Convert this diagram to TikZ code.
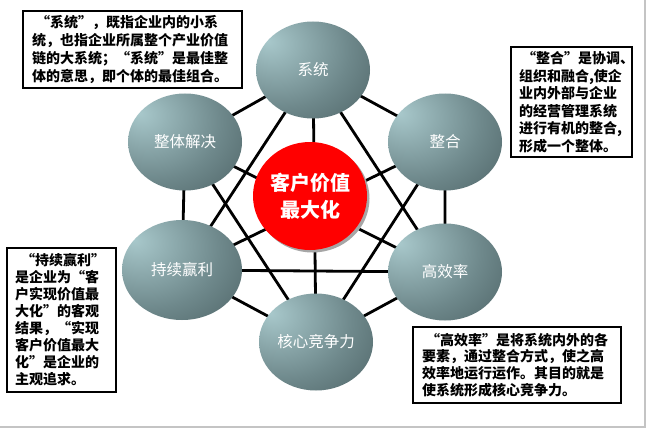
\documentclass[tikz,border=0pt]{standalone}
\usepackage{fontspec}
\newfontfamily\cjk{Noto Sans CJK SC}
\usetikzlibrary{shapes.geometric,shadows}
\definecolor{ellL}{HTML}{A8C8CB}
\definecolor{ellM}{HTML}{6E888B}
\definecolor{ellD}{HTML}{3A4D4F}
\definecolor{framegray}{HTML}{C4C4C4}
\pgfdeclareradialshading{ellshade}{\pgfpoint{-20bp}{15bp}}{color(0bp)=(ellL); color(30bp)=(ellM); color(62bp)=(ellD); color(100bp)=(ellD)}
\pgfdeclarelayer{bg}
\pgfsetlayers{bg,main}
\tikzset{
  ball/.style={ellipse, shading=ellshade, minimum width=114, minimum height=97, inner sep=0,
    text=white, font=\cjk\fontsize{15.5}{18}\selectfont},
  core/.style={ellipse, fill=red, minimum width=114, minimum height=108, inner sep=0,
    text=white, align=center, font=\cjk\bfseries\fontsize{20}{27}\selectfont,
    drop shadow={shadow xshift=2.5pt, shadow yshift=-2.5pt, fill=black!35, opacity=1}},
  link/.style={line width=2.8pt, black},
  note/.style={draw=black, line width=1.1pt, fill=white, inner ysep=0pt, align=left,
    font=\cjk\bfseries\fontsize{14}{17.5}\selectfont},
  frameline/.style={draw=framegray, line width=1.8pt}
}
\begin{document}
\begin{tikzpicture}[x=1pt,y=-1pt]
\useasboundingbox (0,0) rectangle (660,441);
\begin{pgfonlayer}{bg}
\fill[white] (0,0) rectangle (660,441);
\end{pgfonlayer}
\coordinate (fa) at (645,0);
\coordinate (fb) at (645,427);
\coordinate (fc) at (0,427);
\draw[frameline] (fa) -- (fb) -- (fc);

\node[ball] (xt) at (313,70) {系统};
\node[ball] (zt) at (185,142) {整体解决};
\node[ball] (zh) at (445,142) {整合};
\node[ball, minimum width=120, minimum height=100] (cx) at (182,270) {持续赢利};
\node[ball] (gx) at (445,272) {高效率};
\node[ball] (hx) at (316,342) {核心竞争力};
\node[core] (kh) at (310,196) {客户价值\\最大化};

\begin{pgfonlayer}{bg}
\draw[link] (xt.center) -- (zh.center) -- (gx.center) -- (hx.center) -- (cx.center) -- (zt.center) -- (xt.center);
\draw[link] (xt.center) -- (gx.center);
\draw[link] (xt.center) -- (cx.center);
\draw[link] (xt.center) -- (hx.center);
\draw[link] (zh.center) -- (hx.center);
\draw[link] (zh.center) -- (cx.center);
\draw[link] (zt.center) -- (gx.center);
\draw[link] (zt.center) -- (hx.center);
\draw[link] (cx.center) -- (gx.center);
\end{pgfonlayer}

\node[note, text width=201, inner xsep=9, minimum height=77, font=\cjk\bfseries\fontsize{14}{18}\selectfont] (n1) at (132.5,49.5)
 {\hspace*{4pt}“系统”，既指企业内的小系\\统，也指企业所属整个产业价值\\链的大系统；“系统”是最佳整\\体的意思，即个体的最佳组合。};
\node[note, text width=105, inner xsep=8, minimum height=110] (n2) at (571.5,102)
 {\hspace*{3pt}“整合”是协调、\\组织和融合,使企\\业内外部与企业\\的经营管理系统\\进行有机的整合,\\形成一个整体。};
\node[note, text width=93, inner xsep=8, minimum height=144, font=\cjk\bfseries\fontsize{14}{17}\selectfont] (n3) at (61.5,320)
 {\hspace*{6pt}“持续赢利”\\是企业为“客\\户实现价值最\\大化”的客观\\结果，“实现\\客户价值最大\\化”是企业的\\主观追求。};
\node[note, text width=190, inner xsep=9, minimum height=76, font=\cjk\bfseries\fontsize{14}{16.7}\selectfont] (n4) at (517,365)
 {\hspace*{4pt}“高效率”是将系统内外的各\\要素，通过整合方式，使之高\\效率地运行运作。其目的就是\\使系统形成核心竞争力。};
\end{tikzpicture}
\end{document}
